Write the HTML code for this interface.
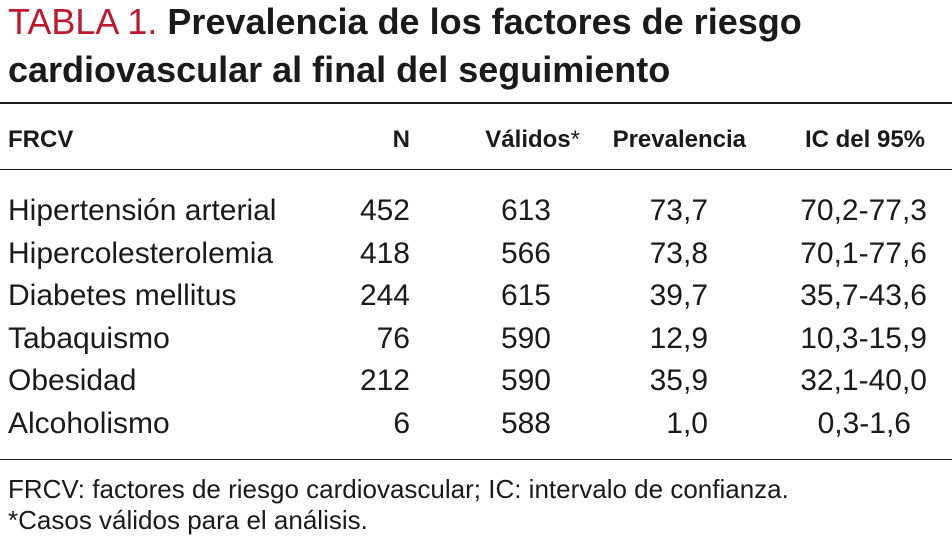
<!DOCTYPE html>
<html><head><meta charset="utf-8"><style>
body{margin:0;width:952px;height:550px;background:#fff;overflow:hidden;position:relative;font-family:"Liberation Sans Narrow","Liberation Sans",sans-serif;color:#1a1a1a}
.t{position:absolute;white-space:nowrap;line-height:1}
.title{font-size:36px;font-weight:bold;left:8px}
.red{color:#c0172c;font-weight:normal}
.h{font-size:24px;font-weight:bold;top:128px}
.r{font-size:30px}
.rule{position:absolute;left:0;width:952px;background:#1a1a1a}
.f{font-size:26px;left:8px}
</style></head><body>
<div class="t title" style="top:4px"><span class="red">TABLA 1.</span> Prevalencia de los factores de riesgo</div>
<div class="t title" style="top:52px">cardiovascular al final del seguimiento</div>
<div class="rule" style="top:102px;height:2px"></div>
<div class="t h" style="left:8px">FRCV</div>
<div class="t h" style="right:542px">N</div>
<div class="t h" style="right:372px">Válidos<span style="font-weight:normal">*</span></div>
<div class="t h" style="right:206px">Prevalencia</div>
<div class="t h" style="right:27px">IC del 95%</div>
<div class="rule" style="top:169px;height:1px"></div>
<div id="rows"></div>
<div class="rule" style="top:459px;height:1px"></div>
<div class="t f" style="top:476px">FRCV: factores de riesgo cardiovascular; IC: intervalo de confianza.</div>
<div class="t f" style="top:507px">*Casos válidos para el análisis.</div>
<script>
const factors=["Hipertensión arterial","Hipercolesterolemia","Diabetes mellitus","Tabaquismo","Obesidad","Alcoholismo"];
const nVals=["452","418","244","76","212","6"];
const validVals=["613","566","615","590","590","588"];
const prevVals=["73,7","73,8","39,7","12,9","35,9","1,0"];
const icVals=["70,2-77,3","70,1-77,6","35,7-43,6","10,3-15,9","32,1-40,0","0,3-1,6"];
const host=document.getElementById('rows');
const cols=[[factors,'left',8,'factor'],[nVals,'right',542,'n'],[validVals,'right',401,'validos'],[prevVals,'right',244,'prevalencia'],[icVals,'right',25,'ic']];
factors.forEach((_,i)=>{
  cols.forEach(([arr,side,pos,nm])=>{
    const d=document.createElement('div');
    d.className='t r';
    d.style.top=(196+i*42.6)+'px';
    d.style[side]=pos+'px';
    if(nm==='ic'&&arr[i].length<8)d.style.right='41px';
    d.textContent=arr[i];
    
    
    host.appendChild(d);
  });
});
</script>
</body></html>
